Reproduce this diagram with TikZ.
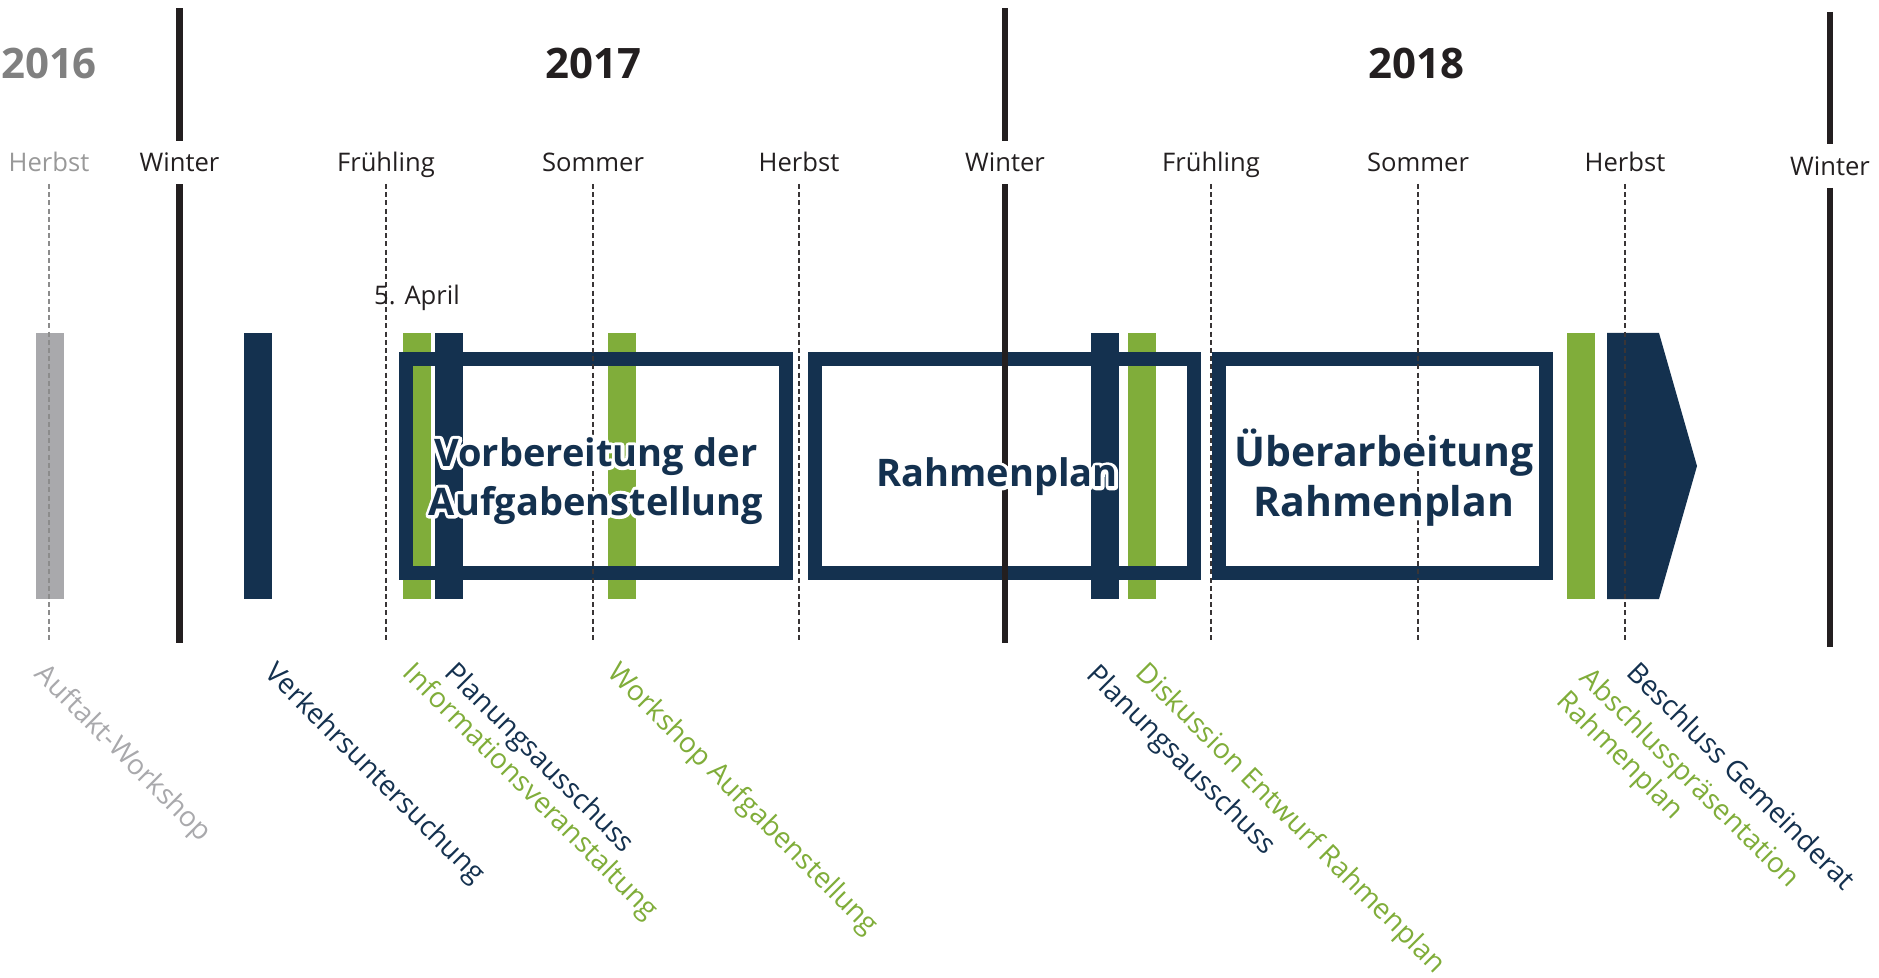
\documentclass[tikz,border=0pt]{standalone}
\usepackage{fontspec}
\setmainfont{Open Sans}
\usepackage{tikz}
\usetikzlibrary{positioning}

\definecolor{navy}{HTML}{14314F}
\definecolor{leaf}{HTML}{80AD3A}
\definecolor{ash}{HTML}{A9A9AC}
\definecolor{ink}{HTML}{231F20}
% white outline under the text (stroke only), then the text itself
\newcommand{\halo}[1]{\leavevmode\rlap{\special{pdf:literal direct 1 1 1 RG 1 J 1 j 3.4 w 1 Tr}#1\special{pdf:literal direct 0 Tr}}#1}

\begin{document}
\begin{tikzpicture}[x=0.5pt,y=-0.5pt]
    \tikzstyle{season}=[font=\fontsize{12.8}{15}\selectfont, text=ink, inner sep=0pt, anchor=base]
    \tikzstyle{year}=[font=\fontsize{21}{25}\selectfont\bfseries, text=ink, inner sep=0pt]
    \tikzstyle{winter}=[ink, line width=3.35pt]
    \tikzstyle{tick}=[ink!90, line width=0.65pt, dash pattern=on 2.5pt off 1.6pt]
    \tikzstyle{phase}=[navy, line width=7pt]
    \tikzstyle{phasetext}=[font=\fontsize{19}{24.4}\selectfont\bfseries, text=navy, align=center, inner sep=0pt]
    \tikzstyle{event}=[font=\fontsize{14}{16.5}\selectfont, rotate=-45, anchor=north west, inner sep=0pt, align=left]
    %\draw[help lines] (0,0) grid[step=100] (1879,978);
    \useasboundingbox (0,0) rectangle (1879,978);

    % years
    \node[year, text=black!50] (y2016) at (49,63) {2016};
    \node[year] (y2017) at (593,63) {2017};
    \node[year] (y2018) at (1416,63) {2018};

    % bars
    \foreach \x/\c in {36/ash, 244/navy, 403/leaf, 435/navy, 608/leaf, 1091/navy, 1128/leaf, 1567/leaf}
        \fill[\c] (\x,333) rectangle ++(28,266);
    \fill[navy] (1607,333) -- (1659,333) -- (1697,466) -- (1659,599) -- (1607,599) -- cycle;

    % phases
    \draw[phase] (406,359) rectangle (786,573);
    \draw[phase] (815,359) rectangle (1194,573);
    \draw[phase] (1219,359) rectangle (1546,573);

    % seasons
    \node[season, text=black!40] (herbst0) at (49,172) {Herbst};
    \draw[tick, black!45] (49,184) -- (49,643);
    \foreach \x/\s [count=\i] in {386/Frühling, 593/Sommer, 799/Herbst, 1211/Frühling, 1418/Sommer, 1625/Herbst} {
        \node[season] (season\i) at (\x,172) {\s};
        \draw[tick] (\x,184) -- (\x,643);
    }
    \foreach \x/\d [count=\i] in {179.5/0, 1005/0, 1830/3.5} {
        \node[season] (winter\i) at (\x,172+\d) {Winter};
        \draw[winter] (\x,8.5+\d) -- (\x,141+\d);
        \draw[winter] (\x,184.5+\d) -- (\x,643+\d);
    }
    \node[season] (april) at (417,305) {5. April};

    % phase titles
    \node[phasetext] (vorbereitung) at (596,481) {\halo{Vorbereitung der}\\\halo{Aufgabenstellung}};
    \node[phasetext] (rahmenplan) at (997,477) {\halo{Rahmenplan}};
    \node[phasetext, font=\fontsize{20.5}{25}\selectfont\bfseries] (ueberarbeitung) at (1384,478) {\halo{Überarbeitung}\\\halo{Rahmenplan}};

    % events
    \node[event, text=ash] (auftakt) at (49,660) {Auftakt-Workshop};
    \node[event, text=navy] (verkehr) at (279,659) {Verkehrsuntersuchung};
    \node[event, text=leaf] (info) at (417,659) {Informationsveranstaltung};
    \node[event, text=navy] (plan1) at (459,659) {Planungsausschuss};
    \node[event, text=leaf] (workshop) at (622,659) {Workshop Aufgabenstellung};
    \node[event, text=navy] (plan2) at (1101,661) {Planungsausschuss};
    \node[event, text=leaf] (diskussion) at (1150,659) {Diskussion Entwurf Rahmenplan};
    \node[event, text=leaf] (abschluss) at (1594,664) {Abschlusspräsentation\\Rahmenplan};
    \node[event, text=navy] (beschluss) at (1641,659) {Beschluss Gemeinderat};
\end{tikzpicture}
\end{document}
